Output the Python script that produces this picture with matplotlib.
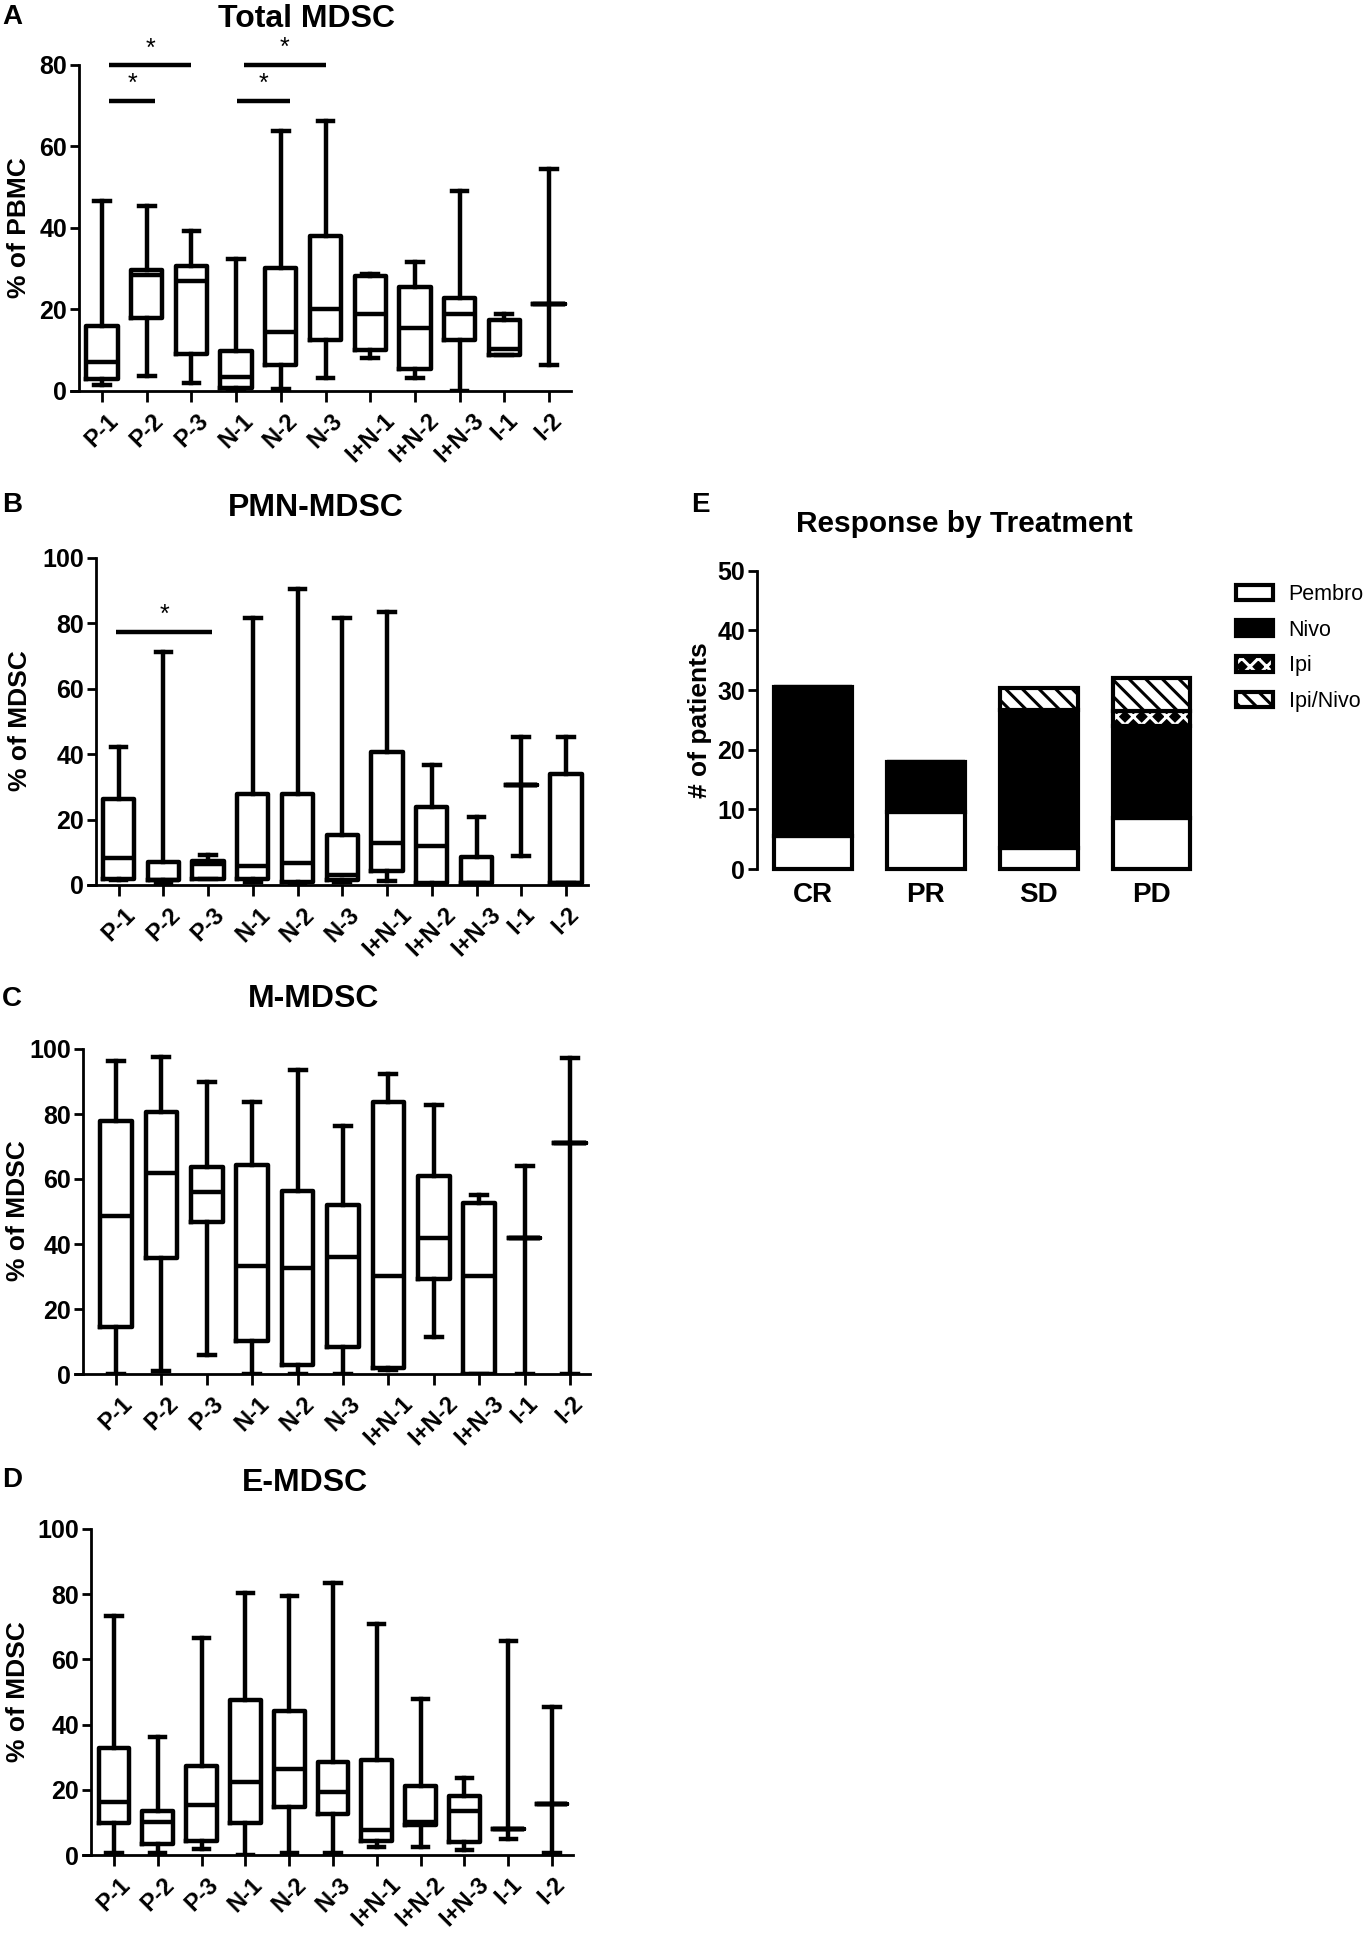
import matplotlib
matplotlib.use('Agg')
import matplotlib.pyplot as plt
from matplotlib.patches import Patch

plt.rcParams['font.family'] = ['Liberation Sans', 'DejaVu Sans']
plt.rcParams['hatch.linewidth'] = 2.2

W, H = 1370, 1935

groups = ['P-1', 'P-2', 'P-3', 'N-1', 'N-2', 'N-3',
          'I+N-1', 'I+N-2', 'I+N-3', 'I-1', 'I-2']

# A: Total MDSC, % of PBMC
total_lo = [1.4, 3.8, 2.0, 0.5, 0.5, 3.3, 8.2, 3.2, 0.0, 8.8, 6.5]
total_q1 = [3.0, 17.8, 9.0, 0.7, 6.5, 12.6, 10.0, 5.5, 12.6, 8.8, 21.3]
total_med = [7.0, 28.4, 27.0, 3.4, 14.5, 20.0, 18.8, 15.5, 18.8, 10.2, 21.3]
total_q3 = [16.0, 29.6, 30.7, 9.8, 30.2, 38.1, 28.2, 25.4, 22.7, 17.4, 21.3]
total_hi = [46.6, 45.4, 39.2, 32.5, 63.9, 66.3, 28.8, 31.7, 49.0, 19.0, 54.5]
total_sig = [(1.16, 2.19, 71.2), (1.16, 2.99, 79.9), (4.02, 5.2, 71.2), (4.17, 6.0, 80.0)]

# B: PMN-MDSC, % of MDSC
pmn_lo = [1.5, 0.5, 1.7, 1.0, 0.5, 1.0, 1.3, 0.0, 0.5, 9.0, 0.5]
pmn_q1 = [1.7, 1.5, 1.7, 1.7, 1.0, 1.5, 4.4, 0.5, 0.5, 30.5, 0.5]
pmn_med = [8.1, 1.5, 6.5, 5.8, 6.6, 3.0, 12.7, 11.9, 0.5, 30.5, 0.5]
pmn_q3 = [26.3, 6.9, 7.4, 27.7, 27.7, 15.3, 40.7, 23.9, 8.5, 30.5, 33.8]
pmn_hi = [42.3, 71.1, 9.2, 81.5, 90.4, 81.5, 83.5, 36.7, 20.7, 45.1, 45.1]
pmn_sig = [(0.94, 3.09, 77.4)]

# C: M-MDSC, % of MDSC
m_lo = [0.0, 0.9, 5.8, 0.0, 0.0, 0.0, 1.2, 11.3, 0.0, 0.0, 0.0]
m_q1 = [14.6, 35.6, 46.7, 10.3, 2.8, 8.2, 1.9, 29.2, 0.0, 41.7, 71.0]
m_med = [48.7, 61.9, 55.9, 33.3, 32.5, 36.1, 30.2, 42.0, 30.2, 41.7, 71.0]
m_q3 = [77.9, 80.5, 63.6, 64.3, 56.4, 52.0, 83.6, 61.0, 52.5, 41.7, 71.0]
m_hi = [96.4, 97.6, 89.7, 83.6, 93.5, 76.4, 92.2, 82.8, 55.1, 64.1, 97.3]

# D: E-MDSC, % of MDSC
e_lo = [0.5, 0.5, 1.8, 0.0, 0.5, 0.5, 2.6, 2.6, 1.5, 4.9, 0.5]
e_q1 = [9.7, 3.4, 4.4, 9.7, 14.6, 12.5, 4.4, 9.2, 4.1, 8.0, 15.6]
e_med = [16.4, 10.2, 15.3, 22.5, 26.4, 19.4, 7.7, 10.0, 13.6, 8.0, 15.6]
e_q3 = [32.7, 13.6, 27.4, 47.5, 44.3, 28.4, 29.1, 21.3, 18.2, 8.0, 15.6]
e_hi = [73.3, 36.3, 66.5, 80.5, 79.6, 83.5, 70.9, 47.9, 23.5, 65.6, 45.5]

# E: response by treatment, # of patients
responses = ['CR', 'PR', 'SD', 'PD']
pembro = [5.5, 9.5, 3.5, 8.5]
nivo = [25.0, 8.5, 23.2, 15.5]
ipi = [0.0, 0.0, 0.0, 2.5]
ipi_nivo = [0.0, 0.0, 3.6, 5.5]

fig = plt.figure(figsize=(W / 100, H / 100), dpi=100)


def add_px_axes(x0, x1, ytop, ybot):
    return fig.add_axes([x0 / W, 1 - ybot / H, (x1 - x0) / W, (ybot - ytop) / H])


def box_panel(lo, q1, med, q3, hi, ymax, yaxis, first, last, xend, ytop, ybot, sig=()):
    xstart = yaxis - 8
    sp = (last - first) / 10.0
    ax = add_px_axes(xstart, xend, ytop, ybot)
    stats = []
    for i in range(len(groups)):
        stats.append({'whislo': lo[i], 'q1': q1[i], 'med': med[i],
                      'q3': q3[i], 'whishi': hi[i], 'fliers': []})
    lw = 3.2
    ax.bxp(stats, positions=range(1, len(groups) + 1), widths=0.7, capwidths=0.35,
           showfliers=False,
           boxprops=dict(color='black', lw=lw),
           whiskerprops=dict(color='black', lw=lw),
           capprops=dict(color='black', lw=lw),
           medianprops=dict(color='black', lw=lw))
    ax.set_xlim(1 - (first - xstart) / sp, 11 + (xend - last) / sp)
    ax.set_ylim(0, ymax)
    ax.spines['left'].set_position(('data', 1 - (first - yaxis) / sp))
    ax.spines['left'].set_bounds(0, ymax)
    for s in ['top', 'right']:
        ax.spines[s].set_visible(False)
    for s in ['left', 'bottom']:
        ax.spines[s].set_linewidth(2.0)
    ax.set_yticks(range(0, ymax + 1, 20))
    ax.set_xticks(range(1, len(groups) + 1))
    ax.set_xticklabels(groups, rotation=45, fontsize=17, fontweight='bold')
    ax.tick_params(axis='y', length=6.5, width=2, pad=2, labelsize=18)
    ax.tick_params(axis='x', length=8, width=2, pad=5)
    for t in ax.get_yticklabels():
        t.set_fontweight('bold')
    for x1, x2, y in sig:
        ax.plot([x1, x2], [y, y], color='black', lw=3.2, clip_on=False,
                solid_capstyle='butt')
        ax.text((x1 + x2) / 2, y + 1.2 * ymax / 80, '*', ha='center', va='bottom',
                fontsize=18, clip_on=False)
    return ax


box_panel(total_lo, total_q1, total_med, total_q3, total_hi, 80,
          79, 102, 549, 571, 65, 391, total_sig)
box_panel(pmn_lo, pmn_q1, pmn_med, pmn_q3, pmn_hi, 100,
          96, 118.6, 566, 588, 557.7, 885, pmn_sig)
box_panel(m_lo, m_q1, m_med, m_q3, m_hi, 100,
          83, 116, 570, 590, 1049, 1374)
box_panel(e_lo, e_q1, e_med, e_q3, e_hi, 100,
          91, 114, 552, 573, 1529, 1855)

# panel E
axE = add_px_axes(757, 1200, 570.7, 869)
xs = range(len(responses))
bw = 0.69
elw = 3.0
bottom1 = pembro
bottom2 = [p + n for p, n in zip(pembro, nivo)]
bottom3 = [b + i for b, i in zip(bottom2, ipi)]
axE.bar(xs, pembro, bw, color='white', edgecolor='black', lw=elw, clip_on=False)
axE.bar(xs, nivo, bw, bottom=bottom1, color='black', edgecolor='black', lw=elw, clip_on=False)
axE.bar(xs, ipi, bw, bottom=bottom2, color='black', edgecolor='white', hatch='xx', lw=0)
axE.bar(xs, ipi, bw, bottom=bottom2, fill=False, edgecolor='black', lw=elw)
axE.bar(xs, ipi_nivo, bw, bottom=bottom3, color='white', edgecolor='black',
        hatch='\\\\', lw=elw)
axE.set_xlim(-0.497, 3.43)
axE.set_ylim(0, 50)
for s in ['top', 'right', 'bottom']:
    axE.spines[s].set_visible(False)
axE.spines['left'].set_linewidth(2.0)
axE.set_yticks(range(0, 51, 10))
axE.tick_params(axis='y', length=6.5, width=2, pad=2, labelsize=18)
for t in axE.get_yticklabels():
    t.set_fontweight('bold')
axE.set_xticks(list(xs))
axE.set_xticklabels(responses, fontsize=20, fontweight='bold')
axE.tick_params(axis='x', length=0, pad=9)

handles = [Patch(facecolor='white', edgecolor='black', lw=3),
           Patch(facecolor='black', edgecolor='black', lw=3),
           (Patch(facecolor='black', edgecolor='white', hatch='xx', lw=0),
            Patch(facecolor='none', edgecolor='black', lw=3)),
           Patch(facecolor='white', edgecolor='black', hatch='\\\\', lw=3)]
axE.legend(handles, ['Pembro', 'Nivo', 'Ipi', 'Ipi/Nivo'], loc='upper left',
           bbox_to_anchor=(1236 / W, 1 - 584 / H), bbox_transform=fig.transFigure,
           frameon=False, fontsize=15.5, handlelength=1.7, handleheight=0.75,
           handletextpad=0.75, labelspacing=0.68, borderpad=0, borderaxespad=0)

# titles, axis labels and panel letters
title_kw = dict(ha='center', va='center', fontsize=23, fontweight='bold')
fig.text(307 / W, 1 - 19 / H, 'Total MDSC', **title_kw)
fig.text(316 / W, 1 - 508 / H, 'PMN-MDSC', **title_kw)
fig.text(314 / W, 1 - 999 / H, 'M-MDSC', **title_kw)
fig.text(305 / W, 1 - 1483 / H, 'E-MDSC', **title_kw)
fig.text(964 / W, 1 - 524 / H, 'Response by Treatment', ha='center', va='center',
         fontsize=21.5, fontweight='bold')

ylab_kw = dict(ha='center', va='center', rotation=90, fontsize=19, fontweight='bold')
fig.text(19 / W, 1 - 228 / H, '% of PBMC', **ylab_kw)
fig.text(20 / W, 1 - 721 / H, '% of MDSC', **ylab_kw)
fig.text(18 / W, 1 - 1211 / H, '% of MDSC', **ylab_kw)
fig.text(18 / W, 1 - 1692 / H, '% of MDSC', **ylab_kw)
fig.text(700 / W, 1 - 720 / H, '# of patients', **ylab_kw)

letter_kw = dict(ha='left', va='center', fontsize=20, fontweight='bold')
fig.text(2 / W, 1 - 17 / H, 'A', **letter_kw)
fig.text(2 / W, 1 - 505 / H, 'B', **letter_kw)
fig.text(2 / W, 1 - 999 / H, 'C', **letter_kw)
fig.text(2 / W, 1 - 1480 / H, 'D', **letter_kw)
fig.text(691 / W, 1 - 505 / H, 'E', **letter_kw)

fig.savefig('out.png', dpi=100, facecolor='white')
